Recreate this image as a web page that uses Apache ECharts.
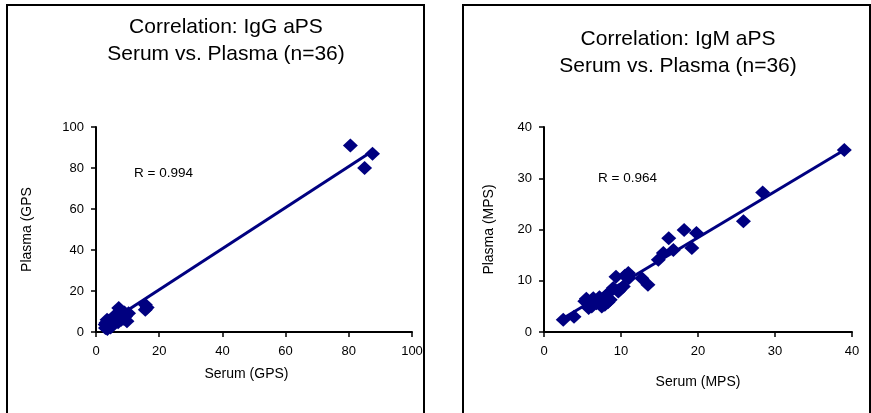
<!DOCTYPE html>
<html>
<head>
<meta charset="utf-8">
<script src="https://cdn.jsdelivr.net/npm/echarts@6/dist/echarts.min.js"></script>
<style>
  html, body { margin: 0; padding: 0; background: #fff; }
  #main { width: 871px; height: 413px; }
</style>
</head>
<body>
<div id="main"></div>
<script>
// IgG aPS: serum vs plasma (GPS)
var iggSerum  = [2.9, 3.5, 4.5, 5.6, 7.2, 7.7, 6.1, 9.8, 10.3, 9.3, 15.6, 15.6,
                 3.0, 3.2, 3.8, 4.0, 4.2, 4.8, 5.0, 5.3, 5.8, 6.4, 6.8, 7.0,
                 7.5, 8.0, 8.4, 8.8, 9.0, 16.2, 3.6, 4.6, 80.5, 85.0, 87.5, 6.6];
var iggPlasma = [3.6, 6.0, 4.4, 7.6, 11.7, 10.0, 5.2, 5.2, 9.2, 7.6, 13.3, 10.9,
                 2.0, 4.5, 2.8, 5.5, 3.5, 3.0, 5.8, 4.0, 6.5, 6.8, 8.5, 4.8,
                 9.0, 6.0, 8.0, 6.5, 9.5, 12.0, 1.5, 2.2, 91.0, 80.0, 87.0, 7.2];
var iggTrendX = [4.4, 86.8];
var iggTrendY = [5.0, 87.6];

// IgM aPS: serum vs plasma (MPS)
var igmSerum  = [2.5, 3.9, 5.3, 5.8, 6.4, 6.8, 7.7, 7.9, 8.4, 8.6, 9.0, 9.35,
                 9.65, 10.3, 10.95, 12.7, 13.5, 14.85, 15.5, 16.2, 16.8, 18.2, 19.2, 19.8,
                 25.9, 28.4, 39.0, 5.5, 6.2, 7.2, 8.0, 8.3, 9.8, 10.5, 11.0, 7.5];
var igmPlasma = [2.4, 3.0, 6.0, 4.7, 6.6, 5.6, 6.3, 5.3, 7.6, 6.3, 8.6, 10.8,
                 7.9, 8.9, 11.5, 10.5, 9.2, 14.1, 15.4, 18.3, 16.0, 19.9, 16.4, 19.3,
                 21.6, 27.2, 35.5, 6.5, 5.0, 6.8, 7.0, 5.8, 8.2, 11.0, 10.5, 5.0];
var igmTrendX = [2.5, 39.0];
var igmTrendY = [2.7, 35.5];

var navy = '#000080';
var font = 'Liberation Sans, Arial, sans-serif';

function pairs(xs, ys) {
  return xs.map(function (x, i) { return [x, ys[i]]; });
}

function axis(max, interval, name, gap, rotate, margin, namePad) {
  return {
    type: 'value', min: 0, max: max, interval: interval,
    name: name, nameLocation: 'middle', nameGap: gap, nameRotate: rotate,
    nameTextStyle: { color: '#000', fontSize: 14, fontFamily: font, padding: namePad || 0 },
    axisLine: { show: true, onZero: false, lineStyle: { color: '#000', width: 2 } },
    axisTick: { show: true, inside: false, length: 5, lineStyle: { color: '#000', width: 1.5 } },
    axisLabel: { color: '#000', fontSize: 13, fontFamily: font, margin: margin },
    splitLine: { show: false }
  };
}

var titleStyle = { color: '#000', fontSize: 21, fontWeight: 'normal', fontFamily: font, lineHeight: 27 };

var chart = echarts.init(document.getElementById('main'));
chart.setOption({
  backgroundColor: '#fff',
  animation: false,
  title: [
    { text: 'Correlation: IgG aPS\nSerum vs. Plasma (n=36)', left: 221, top: 9, textAlign: 'center',
      textStyle: titleStyle },
    { text: 'Correlation: IgM aPS\nSerum vs. Plasma (n=36)', left: 673, top: 21, textAlign: 'center',
      textStyle: titleStyle }
  ],
  grid: [
    { left: 96, top: 127, width: 316, height: 205 },
    { left: 544, top: 127, width: 308, height: 205 }
  ],
  xAxis: [
    Object.assign(axis(100, 20, 'Serum (GPS)', 35, 0, 13, [0, 15, 0, 0]), { gridIndex: 0 }),
    Object.assign(axis(40, 10, 'Serum (MPS)', 43, 0, 13), { gridIndex: 1 })
  ],
  yAxis: [
    Object.assign(axis(100, 20, 'Plasma (GPS', 62, 90, 12), { gridIndex: 0 }),
    Object.assign(axis(40, 10, 'Plasma (MPS)', 48, 90, 12), { gridIndex: 1 })
  ],
  graphic: [
    { type: 'rect', shape: { x: 7, y: 5, width: 417, height: 420 },
      style: { fill: null, stroke: '#000', lineWidth: 2 } },
    { type: 'rect', shape: { x: 463, y: 5, width: 407, height: 420 },
      style: { fill: null, stroke: '#000', lineWidth: 2 } },
    { type: 'text', left: 134, top: 166,
      style: { text: 'R = 0.994', fill: '#000', fontSize: 13.5, fontFamily: font } },
    { type: 'text', left: 598, top: 171,
      style: { text: 'R = 0.964', fill: '#000', fontSize: 13.5, fontFamily: font } }
  ],
  series: [
    { type: 'line', xAxisIndex: 0, yAxisIndex: 0, data: pairs(iggTrendX, iggTrendY),
      symbol: 'none', lineStyle: { color: navy, width: 3 }, z: 2 },
    { type: 'scatter', xAxisIndex: 0, yAxisIndex: 0, data: pairs(iggSerum, iggPlasma),
      symbol: 'diamond', symbolSize: [15, 14], itemStyle: { color: navy, opacity: 1 }, z: 3 },
    { type: 'line', xAxisIndex: 1, yAxisIndex: 1, data: pairs(igmTrendX, igmTrendY),
      symbol: 'none', lineStyle: { color: navy, width: 3 }, z: 2 },
    { type: 'scatter', xAxisIndex: 1, yAxisIndex: 1, data: pairs(igmSerum, igmPlasma),
      symbol: 'diamond', symbolSize: [15, 14], itemStyle: { color: navy, opacity: 1 }, z: 3 }
  ]
});
</script>
</body>
</html>
